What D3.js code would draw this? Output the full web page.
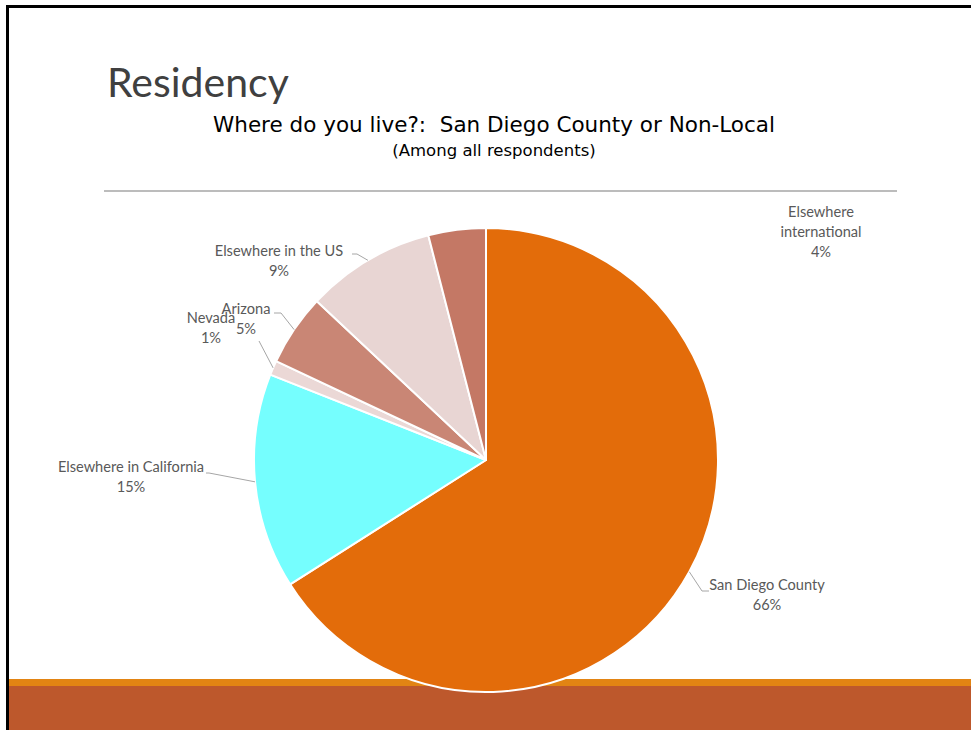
<!DOCTYPE html>
<html>
<head>
<meta charset="utf-8">
<script src="https://cdn.jsdelivr.net/npm/d3@7"></script>
<style>
  html, body { margin: 0; padding: 0; background: #fff; }
  svg { display: block; }
  text { font-family: Lato, "Open Sans", sans-serif; }
</style>
</head>
<body>
<svg id="chart" width="971" height="730"></svg>
<script>
// Residency survey: share of respondents by where they live
const categories = [
  "San Diego County",
  "Elsewhere in California",
  "Nevada",
  "Arizona",
  "Elsewhere in the US",
  "Elsewhere international"
];
const values = [66, 15, 1, 5, 9, 4];
const valueLabels = ["66%", "15%", "1%", "5%", "9%", "4%"];
const sliceColors = ["#E36C0A", "#75FEFE", "#EBD8D6", "#C98675", "#E8D5D3", "#C47865"];

// Label text lines per category (multi-line labels are split here)
const labelLines = [
  ["San Diego County"],
  ["Elsewhere in California"],
  ["Nevada"],
  ["Arizona"],
  ["Elsewhere in the US"],
  ["Elsewhere", "international"]
];

// Label placement: text centre x, first baseline y, and leader elbow/end points
const labelLayout = {
  "San Diego County":        { x: 767, y: 590, elbow: [702, 591], end: [709, 591] },
  "Elsewhere in California": { x: 131, y: 472, elbow: [209, 473], end: [206, 473] },
  "Nevada":                  { x: 211, y: 323, elbow: [259, 341], end: [259, 341] },
  "Arizona":                 { x: 246, y: 314, elbow: [281, 313], end: [274, 313] },
  "Elsewhere in the US":     { x: 279, y: 256, elbow: [357, 254], end: [352, 254] },
  "Elsewhere international": { x: 821, y: 217, elbow: null, end: null }
};

const W = 971, H = 730;
const svg = d3.select("#chart");

// Slide frame and footer band
svg.append("rect").attr("x", 0).attr("y", 0).attr("width", W).attr("height", H).attr("fill", "#fff");
svg.append("rect").attr("x", 8).attr("y", 679).attr("width", W - 8).attr("height", 7).attr("fill", "#E28413");
svg.append("rect").attr("x", 8).attr("y", 686).attr("width", W - 8).attr("height", H - 686).attr("fill", "#BD582C");
svg.append("line").attr("x1", 7.5).attr("y1", 5).attr("x2", 7.5).attr("y2", H).attr("stroke", "#000").attr("stroke-width", 3);
svg.append("line").attr("x1", 6).attr("y1", 6.5).attr("x2", W).attr("y2", 6.5).attr("stroke", "#000").attr("stroke-width", 3);

// Slide title
svg.append("text").attr("x", 107).attr("y", 97)
  .attr("font-size", 41).attr("font-weight", 400).attr("fill", "#404040")
  .text("Residency");

// Chart title
svg.append("text").attr("x", 494).attr("y", 132).attr("text-anchor", "middle")
  .style("font-family", "'DejaVu Sans', sans-serif").style("white-space", "pre")
  .attr("font-size", 21.5).attr("fill", "#000")
  .text("Where do you live?:  San Diego County or Non-Local");
svg.append("text").attr("x", 494).attr("y", 156).attr("text-anchor", "middle")
  .style("font-family", "'DejaVu Sans', sans-serif")
  .attr("font-size", 16.5).attr("fill", "#000")
  .text("(Among all respondents)");

svg.append("line").attr("x1", 104).attr("x2", 897).attr("y1", 191).attr("y2", 191)
  .attr("stroke", "#A6A6A6").attr("stroke-width", 1.5);

// Pie
const cx = 486, cy = 460, r = 232;
const data = categories.map((c, i) => ({ category: c, value: values[i], label: valueLabels[i], lines: labelLines[i] }));
const pie = d3.pie().value(d => d.value).sort(null);
const arcs = pie(data);
const arc = d3.arc().innerRadius(0).outerRadius(r);
const color = d3.scaleOrdinal().domain(categories).range(sliceColors);

const g = svg.append("g").attr("transform", `translate(${cx},${cy})`);
g.selectAll("path.slice").data(arcs).join("path")
  .attr("class", "slice")
  .attr("d", arc)
  .attr("fill", d => color(d.data.category))
  .attr("stroke", "#fff").attr("stroke-width", 2).attr("stroke-linejoin", "round");

// Leader lines from slice edge (mid angle) to label
arcs.forEach(a => {
  const L = labelLayout[a.data.category];
  if (!L.elbow) return;
  const mid = (a.startAngle + a.endAngle) / 2;
  const p0 = [cx + r * Math.sin(mid), cy - r * Math.cos(mid)];
  svg.append("polyline")
    .attr("points", [p0, L.elbow, L.end].map(p => p.join(",")).join(" "))
    .attr("fill", "none").attr("stroke", "#A6A6A6").attr("stroke-width", 1);
});

// Data labels
arcs.forEach(a => {
  const L = labelLayout[a.data.category];
  const t = svg.append("text").attr("text-anchor", "middle")
    .attr("font-size", 14.6).attr("fill", "#595959");
  const lines = a.data.lines.concat([a.data.label]);
  lines.forEach((s, i) => {
    t.append("tspan").attr("x", L.x).attr("y", L.y + i * 20).text(s);
  });
});
</script>
</body>
</html>
